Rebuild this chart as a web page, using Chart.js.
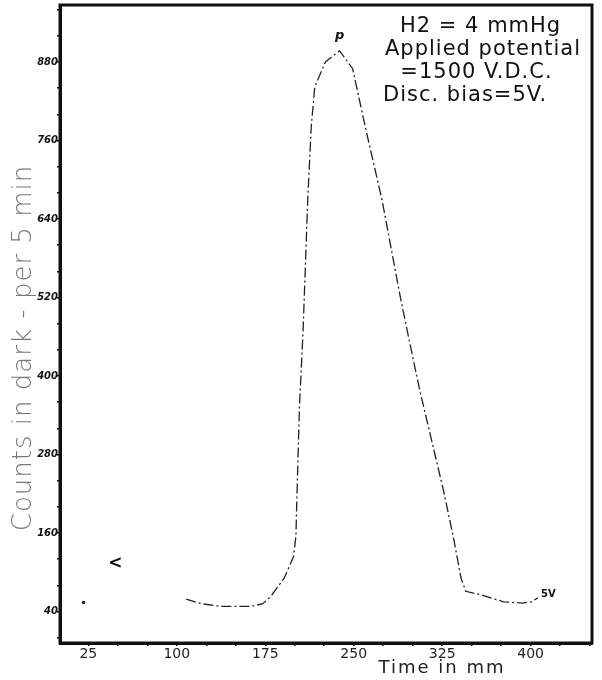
<!DOCTYPE html>
<html>
<head>
<meta charset="utf-8">
<script src="https://cdn.jsdelivr.net/npm/chart.js@4.4.0/dist/chart.umd.min.js"></script>
<style>
body{margin:0;background:#fff}
</style>
</head>
<body>
<canvas id="myChart" width="602" height="680"></canvas>
<script>
// time (mm) and counts; null = gap in the trace
const timeMm = [21, 60, 108, 121, 137, 152, 163, 173, 180, 191, 199, 201, 202, 204, 207, 211, 214, 217, 226, 238, 249, 261, 274, 290, 297, 306, 316, 326, 335, 341, 345, 357, 377, 393, 401, 406];
const counts = [54, null, 59, 52, 48, 48, 48, 52, 64, 91, 124, 155, 226, 353, 466, 669, 781, 842, 880, 897, 870, 771, 669, 516, 455, 378, 302, 226, 149, 91, 71, 66, 55, 53, 55, 61];
const xTickLabels = [25, 100, 175, 250, 325, 400];
const yTickLabels = [40, 160, 280, 400, 520, 640, 760, 880];
const notes = ['H2 = 4 mmHg', 'Applied potential', '  =1500 V.D.C.', 'Disc. bias=5V.'];

const extras = {
  id: 'extras',
  afterDraw(chart) {
    const ctx = chart.ctx, a = chart.chartArea, x = chart.scales.x, y = chart.scales.y;
    ctx.save();
    ctx.strokeStyle = '#111'; ctx.lineWidth = 3;
    ctx.strokeRect(a.left, a.top, a.right - a.left, a.bottom - a.top);
    ctx.fillStyle = '#111';
    ctx.textBaseline = 'alphabetic';
    ctx.font = '21px "DejaVu Sans"';
    ctx.letterSpacing = '1px';
    const lx = [400, 385, 385, 383];
    notes.forEach((t, i) => ctx.fillText(t, lx[i], 32 + i * 23));
    ctx.letterSpacing = '0px';
    // small marks written on the trace
    ctx.textBaseline = 'middle';
    ctx.textAlign = 'center';
    ctx.font = 'bold italic 13px "DejaVu Sans"';
    ctx.fillText('p', x.getPixelForValue(238), 36);
    ctx.font = 'bold 17px "DejaVu Sans"';
    ctx.fillText('<', x.getPixelForValue(48), y.getPixelForValue(114));
    ctx.font = 'bold 10px "DejaVu Sans"';
    ctx.fillText('5V', x.getPixelForValue(415), y.getPixelForValue(67));
    // axis titles
    ctx.fillStyle = '#222';
    ctx.font = '18px "DejaVu Sans"';
    ctx.letterSpacing = '2px';
    ctx.fillText('Time in mm', 442, 668);
    ctx.letterSpacing = '1px';
    ctx.translate(24, 348);
    ctx.rotate(-Math.PI / 2);
    ctx.fillStyle = '#777';
    ctx.font = '200 26px "DejaVu Sans"';
    ctx.fillText('Counts in dark - per 5 min', 0, 0);
    ctx.restore();
  }
};

new Chart(document.getElementById('myChart'), {
  type: 'line',
  data: {
    datasets: [{
      data: timeMm.map((t, i) => ({x: t, y: counts[i]})),
      borderColor: '#222',
      borderWidth: 1.3,
      borderDash: [10, 3, 2, 3],
      pointRadius: ctx => ctx.dataIndex === 0 ? 1.8 : 0,
      pointBackgroundColor: '#222',
      pointBorderWidth: 0,
      tension: 0
    }]
  },
  options: {
    responsive: false,
    animation: false,
    layout: {padding: {top: 5, right: 10}},
    plugins: {legend: {display: false}, tooltip: {enabled: false}},
    scales: {
      x: {
        type: 'linear', min: 1, max: 452,
        afterBuildTicks: s => { s.ticks = []; for (let v = 25; v <= 450; v += 25) s.ticks.push({value: v}); },
        afterFit: s => { s.height = 37; },
        grid: {drawOnChartArea: false, tickLength: 3, color: '#111', lineWidth: 1.5},
        border: {color: '#111', width: 3},
        ticks: {autoSkip: false, maxRotation: 0, color: '#222', padding: 0, font: {family: 'DejaVu Sans', size: 14},
          callback: v => xTickLabels.includes(v) ? String(v) : ''}
      },
      y: {
        min: -8, max: 967,
        afterBuildTicks: s => { s.ticks = []; for (let v = 0; v <= 960; v += 40) s.ticks.push({value: v}); },
        afterFit: s => { s.width = 60; },
        grid: {drawOnChartArea: false, tickLength: 3, color: '#111', lineWidth: 1.5},
        border: {color: '#111', width: 3},
        ticks: {autoSkip: false, color: '#111', padding: -1, font: {family: 'DejaVu Sans', size: 10, weight: 'bold', style: 'italic'},
          callback: v => yTickLabels.includes(v) ? String(v) : ''}
      }
    }
  },
  plugins: [extras]
});
</script>
</body>
</html>
